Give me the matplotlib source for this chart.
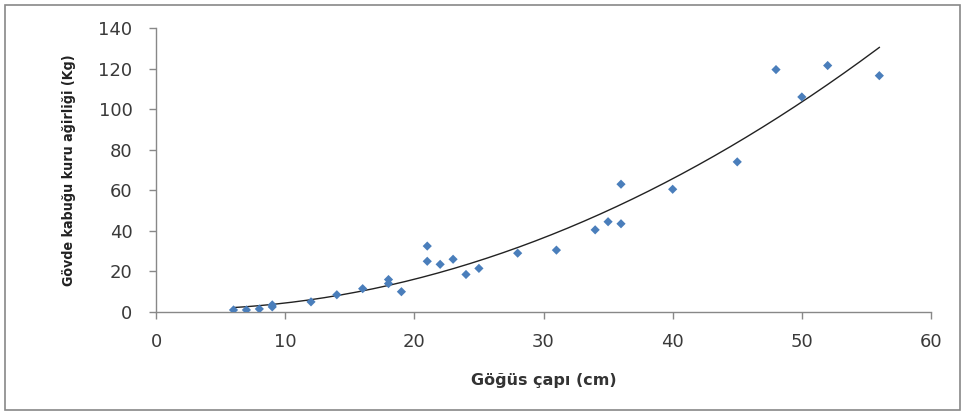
import numpy as np
import matplotlib
matplotlib.use("Agg")
import matplotlib.pyplot as plt
from matplotlib.patches import Rectangle

# Data
diameter = [6, 7, 8, 9, 9, 12, 14, 16, 18, 18, 19, 21, 21, 22, 23, 24, 25, 28,
            31, 34, 35, 36, 36, 40, 45, 48, 50, 52, 56]
weight = [1, 1, 1.5, 3.5, 2.5, 5, 8.5, 11.5, 16, 14, 10, 32.5, 25, 23.5, 26, 18.5,
          21.5, 29, 30.5, 40.5, 44.5, 43.5, 63, 60.5, 74, 119.5, 106, 121.5, 116.5]
x_ticks = [0, 10, 20, 30, 40, 50, 60]
y_ticks = [0, 20, 40, 60, 80, 100, 120, 140]
x_label = "Göğüs çapı (cm)"
y_label = "Gövde kabuğu kuru ağirliği (Kg)"

W, H = 966, 415
fig = plt.figure(figsize=(W / 100, H / 100), dpi=100)
ax = fig.add_axes([156 / W, 1 - 312 / H, (931 - 156) / W, (312 - 28) / H])

# Second-order polynomial trendline fitted to the points
xd = np.array(diameter, dtype=float)
yd = np.array(weight, dtype=float)
coef = np.polyfit(xd, yd, 2)
xs = np.linspace(xd.min(), xd.max(), 200)
ax.plot(xs, np.polyval(coef, xs), color="#222222", lw=1.0, zorder=2)

ax.scatter(diameter, weight, marker="D", s=22, color="#4a7ebb", edgecolors="none", zorder=3)

ax.set_xlim(0, 60)
ax.set_ylim(0, 140)
ax.set_xticks(x_ticks)
ax.set_yticks(y_ticks)
tick_font = dict(family=["DejaVu Sans"], size=13, color="#3a3a3a")
ax.set_xticklabels([str(v) for v in x_ticks], **tick_font)
ax.set_yticklabels([str(v) for v in y_ticks], **tick_font)
ax.tick_params(axis="both", direction="out", length=5, color="#888888", width=1)
ax.tick_params(axis="x", pad=10)
ax.tick_params(axis="y", pad=12)
for s in ["top", "right"]:
    ax.spines[s].set_visible(False)
for s in ["left", "bottom"]:
    ax.spines[s].set_color("#888888")
    ax.spines[s].set_linewidth(1)

ax.set_xlabel(x_label, family=["DejaVu Sans"], fontweight="bold",
              size=11.5, color="#333333", labelpad=16)
ax.set_ylabel(y_label, family=["DejaVu Sans"], fontstretch="condensed", fontweight="bold",
              size=10.2, color="#222222", labelpad=16)

fig.patches.append(Rectangle((5 / W, 5 / H), (960 - 5) / W, (410 - 5) / H,
                             transform=fig.transFigure, fill=False,
                             edgecolor="#888888", lw=1.2))

fig.savefig("out.png", dpi=100)
